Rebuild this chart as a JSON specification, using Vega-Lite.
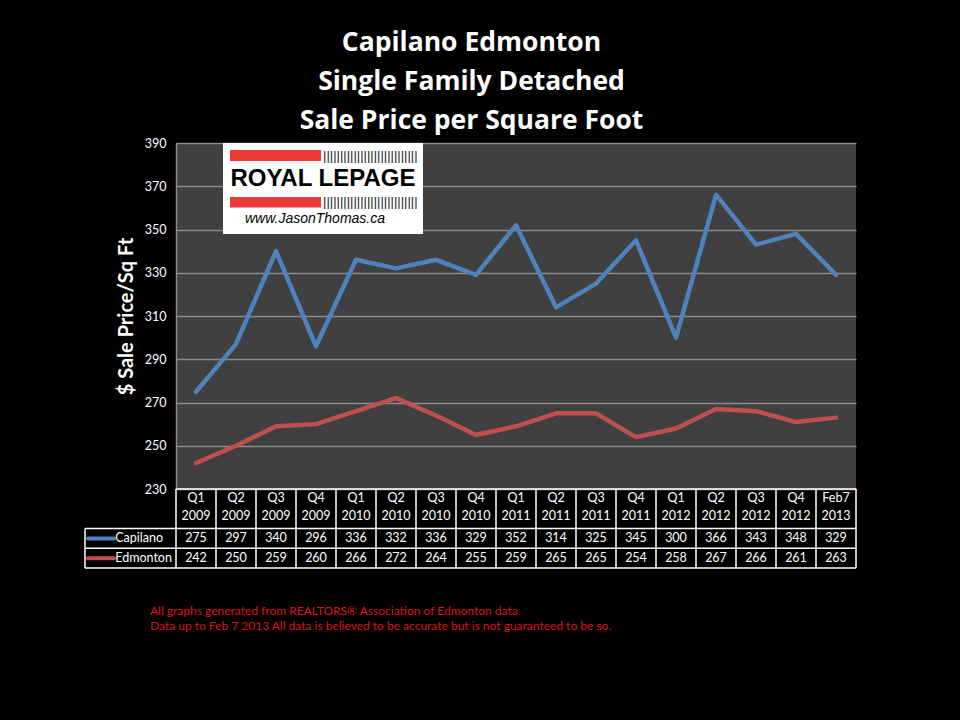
{
  "$schema": "https://vega.github.io/schema/vega-lite/v6.json",
  "background": "black",
  "padding": {"left": 84, "top": 29, "right": 104, "bottom": 88},
  "bounds": "flush",
  "spacing": 0,
  "title": {
    "text": ["Capilano Edmonton", "Single Family Detached", "Sale Price per Square Foot"],
    "color": "white", "font": "Open Sans", "fontSize": 26.5, "fontWeight": "bold",
    "lineHeight": 39, "anchor": "middle", "offset": 3, "dx": 1
  },
  "datasets": {
    "main": [
      {"idx": 0, "q": "Q1", "yr": "2009", "Capilano": 275, "Edmonton": 242},
      {"idx": 1, "q": "Q2", "yr": "2009", "Capilano": 297, "Edmonton": 250},
      {"idx": 2, "q": "Q3", "yr": "2009", "Capilano": 340, "Edmonton": 259},
      {"idx": 3, "q": "Q4", "yr": "2009", "Capilano": 296, "Edmonton": 260},
      {"idx": 4, "q": "Q1", "yr": "2010", "Capilano": 336, "Edmonton": 266},
      {"idx": 5, "q": "Q2", "yr": "2010", "Capilano": 332, "Edmonton": 272},
      {"idx": 6, "q": "Q3", "yr": "2010", "Capilano": 336, "Edmonton": 264},
      {"idx": 7, "q": "Q4", "yr": "2010", "Capilano": 329, "Edmonton": 255},
      {"idx": 8, "q": "Q1", "yr": "2011", "Capilano": 352, "Edmonton": 259},
      {"idx": 9, "q": "Q2", "yr": "2011", "Capilano": 314, "Edmonton": 265},
      {"idx": 10, "q": "Q3", "yr": "2011", "Capilano": 325, "Edmonton": 265},
      {"idx": 11, "q": "Q4", "yr": "2011", "Capilano": 345, "Edmonton": 254},
      {"idx": 12, "q": "Q1", "yr": "2012", "Capilano": 300, "Edmonton": 258},
      {"idx": 13, "q": "Q2", "yr": "2012", "Capilano": 366, "Edmonton": 267},
      {"idx": 14, "q": "Q3", "yr": "2012", "Capilano": 343, "Edmonton": 266},
      {"idx": 15, "q": "Q4", "yr": "2012", "Capilano": 348, "Edmonton": 261},
      {"idx": 16, "q": "Feb7", "yr": "2013", "Capilano": 329, "Edmonton": 263}
    ],
    "one": [{}]
  },
  "vconcat": [
    {
      "width": 680,
      "height": 346,
      "view": {"fill": "#404040", "stroke": null},
      "data": {"name": "main"},
      "layer": [
        {
          "mark": {"type": "line", "color": "#C0504D", "strokeWidth": 4.5, "strokeCap": "round", "strokeJoin": "round"},
          "encoding": {
            "x": {"field": "idx", "type": "quantitative", "scale": {"domain": [-0.5, 16.5], "nice": false, "zero": false}, "axis": null},
            "y": {
              "field": "Edmonton", "type": "quantitative",
              "scale": {"domain": [230, 390], "nice": false, "zero": false},
              "axis": {
                "values": [230, 250, 270, 290, 310, 330, 350, 370, 390],
                "grid": true, "gridColor": "#8c8c8c", "gridWidth": 1.5,
                "domain": true, "domainColor": "#8c8c8c", "domainWidth": 1.5,
                "ticks": false,
                "labelColor": "white", "labelFont": "Lato", "labelFontSize": 12.5, "labelPadding": 10,
                "title": "$ Sale Price/Sq Ft", "titleColor": "white", "titleFont": "Lato",
                "titleFontSize": 20, "titleFontWeight": "bold", "titlePadding": 8
              }
            }
          }
        },
        {
          "mark": {"type": "line", "color": "#4F81BD", "strokeWidth": 4.5, "strokeCap": "round", "strokeJoin": "round"},
          "encoding": {
            "x": {"field": "idx", "type": "quantitative"},
            "y": {"field": "Capilano", "type": "quantitative"}
          }
        },
        {
          "data": {"name": "one"},
          "mark": {"type": "rect", "fill": "white"},
          "encoding": {"x": {"datum": 0.675}, "x2": {"datum": 5.675}, "y": {"datum": 390}, "y2": {"datum": 347.9}}
        },
        {
          "data": {"name": "one"},
          "mark": {"type": "rect", "fill": "#ED3B3B"},
          "encoding": {"x": {"datum": 0.85}, "x2": {"datum": 3.125}, "y": {"datum": 386.8}, "y2": {"datum": 381.7}}
        },
        {
          "data": {"name": "one"},
          "mark": {"type": "rect", "fill": "#ED3B3B"},
          "encoding": {"x": {"datum": 0.85}, "x2": {"datum": 3.125}, "y": {"datum": 365}, "y2": {"datum": 360.2}}
        },
        {
          "data": {"name": "one"},
          "mark": {"type": "text", "text": "||||||||||||||||||||||||||||", "font": "Liberation Sans", "fontSize": 13, "color": "#222222", "align": "left", "baseline": "middle"},
          "encoding": {"x": {"datum": 3.175}, "y": {"datum": 384.2}}
        },
        {
          "data": {"name": "one"},
          "mark": {"type": "text", "text": "||||||||||||||||||||||||||||", "font": "Liberation Sans", "fontSize": 13, "color": "#222222", "align": "left", "baseline": "middle"},
          "encoding": {"x": {"datum": 3.175}, "y": {"datum": 362.6}}
        },
        {
          "data": {"name": "one"},
          "mark": {"type": "text", "text": "ROYAL LEPAGE", "font": "Liberation Sans", "fontSize": 24, "fontWeight": "bold", "color": "black", "align": "center", "baseline": "middle"},
          "encoding": {"x": {"datum": 3.175}, "y": {"datum": 373.5}}
        },
        {
          "data": {"name": "one"},
          "mark": {"type": "text", "text": "www.JasonThomas.ca", "font": "Liberation Sans", "fontSize": 14, "fontStyle": "italic", "color": "black", "align": "center", "baseline": "middle"},
          "encoding": {"x": {"datum": 2.975}, "y": {"datum": 354.9}}
        }
      ]
    },
    {
      "width": 680,
      "height": 79,
      "view": {"fill": null, "stroke": null},
      "data": {"name": "main"},
      "layer": [
        {
          "mark": {"type": "text", "color": "white", "font": "Lato", "fontSize": 12.5, "baseline": "middle"},
          "encoding": {
            "x": {"field": "idx", "type": "quantitative", "scale": {"domain": [-0.5, 16.5], "nice": false, "zero": false}, "axis": null},
            "y": {"datum": 0.45, "scale": {"domain": [0, 4], "reverse": true, "nice": false, "zero": false}, "axis": null},
            "text": {"field": "q"}
          }
        },
        {
          "mark": {"type": "text", "color": "white", "font": "Lato", "fontSize": 12.5, "baseline": "middle"},
          "encoding": {"x": {"field": "idx", "type": "quantitative"}, "y": {"datum": 1.35}, "text": {"field": "yr"}}
        },
        {
          "mark": {"type": "text", "color": "white", "font": "Lato", "fontSize": 12.5, "baseline": "middle"},
          "encoding": {"x": {"field": "idx", "type": "quantitative"}, "y": {"datum": 2.5}, "text": {"field": "Capilano"}}
        },
        {
          "mark": {"type": "text", "color": "white", "font": "Lato", "fontSize": 12.5, "baseline": "middle"},
          "encoding": {"x": {"field": "idx", "type": "quantitative"}, "y": {"datum": 3.5}, "text": {"field": "Edmonton"}}
        },
        {
          "mark": {"type": "rule", "color": "white", "strokeWidth": 1.5, "xOffset": 20},
          "encoding": {"x": {"field": "idx", "type": "quantitative"}, "y": {"datum": 0}, "y2": {"datum": 4}}
        },
        {
          "data": {"name": "one"},
          "mark": {"type": "rule", "color": "white", "strokeWidth": 1.5},
          "encoding": {"x": {"datum": -0.5}, "y": {"datum": 0}, "y2": {"datum": 4}}
        },
        {
          "data": {"name": "one"},
          "mark": {"type": "rule", "color": "white", "strokeWidth": 1.5},
          "encoding": {"x": {"datum": -2.775}, "y": {"datum": 2}, "y2": {"datum": 4}}
        },
        {
          "data": {"name": "one"},
          "mark": {"type": "rule", "color": "white", "strokeWidth": 1.5},
          "encoding": {"x": {"datum": -0.5}, "x2": {"datum": 16.5}, "y": {"datum": 0}}
        },
        {
          "data": {"name": "one"},
          "mark": {"type": "rule", "color": "white", "strokeWidth": 1.5},
          "encoding": {"x": {"datum": -2.775}, "x2": {"datum": 16.5}, "y": {"datum": 2}}
        },
        {
          "data": {"name": "one"},
          "mark": {"type": "rule", "color": "white", "strokeWidth": 1.5},
          "encoding": {"x": {"datum": -2.775}, "x2": {"datum": 16.5}, "y": {"datum": 3}}
        },
        {
          "data": {"name": "one"},
          "mark": {"type": "rule", "color": "white", "strokeWidth": 1.5},
          "encoding": {"x": {"datum": -2.775}, "x2": {"datum": 16.5}, "y": {"datum": 4}}
        },
        {
          "data": {"name": "one"},
          "mark": {"type": "rule", "color": "#4F81BD", "strokeWidth": 4, "strokeCap": "round"},
          "encoding": {"x": {"datum": -2.7}, "x2": {"datum": -2.05}, "y": {"datum": 2.5}}
        },
        {
          "data": {"name": "one"},
          "mark": {"type": "rule", "color": "#C0504D", "strokeWidth": 4, "strokeCap": "round"},
          "encoding": {"x": {"datum": -2.7}, "x2": {"datum": -2.05}, "y": {"datum": 3.5}}
        },
        {
          "data": {"name": "one"},
          "mark": {"type": "text", "text": "Capilano", "color": "white", "font": "Lato", "fontSize": 12.5, "align": "left", "baseline": "middle"},
          "encoding": {"x": {"datum": -2.02}, "y": {"datum": 2.5}}
        },
        {
          "data": {"name": "one"},
          "mark": {"type": "text", "text": "Edmonton", "color": "white", "font": "Lato", "fontSize": 12.5, "align": "left", "baseline": "middle"},
          "encoding": {"x": {"datum": -2.02}, "y": {"datum": 3.5}}
        },
        {
          "data": {"name": "one"},
          "mark": {"type": "text", "text": "All graphs generated from REALTORS® Association of Edmonton data", "color": "#DD1111", "font": "Lato", "fontSize": 12, "align": "left", "baseline": "middle"},
          "encoding": {"x": {"datum": -1.15}, "y": {"datum": 6.18}}
        },
        {
          "data": {"name": "one"},
          "mark": {"type": "text", "text": "Data up to  Feb 7 2013  All data is believed to be accurate but is not guaranteed to be so.", "color": "#DD1111", "font": "Lato", "fontSize": 12, "align": "left", "baseline": "middle"},
          "encoding": {"x": {"datum": -1.15}, "y": {"datum": 6.96}}
        }
      ]
    }
  ],
  "config": {"view": {"stroke": null}, "font": "Lato"}
}
